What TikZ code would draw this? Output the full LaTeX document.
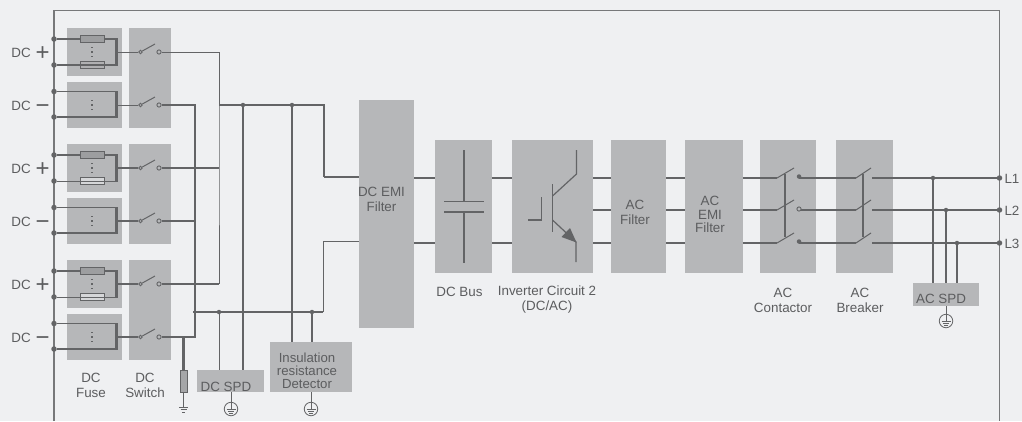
\documentclass[tikz,border=0pt]{standalone}
\usepackage{fontspec}
\setmainfont{Liberation Sans}
\usetikzlibrary{arrows.meta}
\definecolor{bgc}{HTML}{EFF0F2}
\definecolor{boxc}{HTML}{B6B7B9}
\definecolor{wirec}{HTML}{636466}
\definecolor{framec}{HTML}{77787A}
\definecolor{txtc}{HTML}{5C5D5F}
\tikzset{
  x=1pt,y=-1pt,
  blk/.style={fill=boxc,draw=none,inner sep=0pt,outer sep=0pt},
  lbl/.style={text=txtc,inner sep=0pt,outer sep=0pt,align=center,font=\fontsize{13.4}{15}\selectfont},
  wthin/.style={draw=wirec,line width=1pt},
  wmid/.style={draw=wirec,line width=1.4pt},
  wthick/.style={draw=wirec,line width=2.2pt},
  dotn/.style={circle,fill=wirec,draw=none,minimum size=5.5pt,inner sep=0pt},
  term/.style={circle,draw=wirec,fill=boxc,line width=.9pt,minimum size=4.2pt,inner sep=0pt},
  fusebox/.style={draw=wirec,line width=.8pt,fill=#1,minimum width=24pt,minimum height=6.5pt,inner sep=0pt},
  earthn/.style={circle,draw=wirec,line width=.8pt,fill=none,minimum size=13.5pt,inner sep=0pt},
}
\newcommand{\earthsym}[1]{%
  \draw[wthin] ([xshift=-4.5pt]#1.center) -- ([xshift=4.5pt]#1.center);
  \draw[wthin,line width=.8pt] ([xshift=-3.2pt,yshift=-2.4pt]#1.center) -- ([xshift=3.2pt,yshift=-2.4pt]#1.center);
  \draw[wthin,line width=.8pt] ([xshift=-1.6pt,yshift=-4.6pt]#1.center) -- ([xshift=1.6pt,yshift=-4.6pt]#1.center);
}
\begin{document}
\begin{tikzpicture}
\useasboundingbox (0,0) rectangle (1022,421);
\fill[bgc] (0,0) rectangle (1022,421);
% frame
\draw[draw=framec,line width=1.2pt] (54,421) -- (54,10.5) -- (999.5,10.5) -- (999.5,421);

% input groups
\foreach \o/\wA/\wB/\wC/\wD/\wE/\wF/\ca in {
  0/wthick/wthick/wthin/wthick/wthin/wthin/B0B0B2,
  116/wthick/wthin/wthin/wthick/wthick/wthick/D6D7D9,
  232/wthick/wthin/wthin/wmid/wthick/wthick/D6D7D9}{
  \definecolor{fc}{HTML}{\ca}
  \node[blk,minimum width=55.5pt,minimum height=48pt] (fa\o) at (94.7,52+\o) {};
  \node[blk,minimum width=55.5pt,minimum height=46.5pt] (fb\o) at (94.7,105+\o) {};
  \node[blk,minimum width=42pt,minimum height=100pt] (sw\o) at (150,78+\o) {};
  \coordinate (ja\o) at (116.5,39+\o);
  \coordinate (jb\o) at (116.5,65+\o);
  \coordinate (jm\o) at (116.5,52+\o);
  \coordinate (jc\o) at (116.5,91.5+\o);
  \coordinate (jd\o) at (116.5,117+\o);
  \coordinate (jn\o) at (116.5,105+\o);
  \node[dotn] (da\o) at (54,39+\o) {};
  \node[dotn] (db\o) at (54,65+\o) {};
  \node[dotn] (dc\o) at (54,91.5+\o) {};
  \node[dotn] (dd\o) at (54,117+\o) {};
  % switch terminals
  \node[term,minimum size=3.6pt] (ta\o) at (140.5,52+\o) {};
  \node[term] (tb\o) at (159,52+\o) {};
  \node[term,minimum size=3.6pt] (tc\o) at (140.5,105+\o) {};
  \node[term] (td\o) at (159,105+\o) {};
  \coordinate (ba\o) at (155,44+\o);
  \coordinate (bc\o) at (155,97+\o);
  % wires
  \draw[\wA] (da\o) -- (ja\o);
  \draw[\wB] (db\o) -- (jb\o);
  \draw[wthick] ([yshift=1pt]ja\o) -- ([yshift=-1pt]jb\o);
  \draw[\wE] (jm\o) -- (ta\o);
  \draw[\wC] (dc\o) -- (jc\o);
  \draw[\wD] (dd\o) -- (jd\o);
  \draw[wthick] ([yshift=.5pt]jc\o) -- ([yshift=-1pt]jd\o);
  \draw[\wF] (jn\o) -- (tc\o);
  \draw[wthin] (ta\o) -- (ba\o);
  \draw[wthin] (tc\o) -- (bc\o);
  % fuses
  \node[fusebox=boxc!70!wirec] (fu\o) at (92.5,39+\o) {};
  \node[fusebox=fc] (fl\o) at (92.5,65+\o) {};
  \draw[\wB] (fl\o.west) -- (fl\o.east);
  % dotted marks
  \foreach \q in {47.5,52,56.5}{\fill[wirec] (90.8,\q+\o-.9) rectangle (93,\q+\o+.9);}
  \foreach \q in {100.5,105,109.5}{\fill[wirec] (90.8,\q+\o-.9) rectangle (93,\q+\o+.9);}
}

% terminal labels
\foreach \n/\yy/\s in {p1/57/+,m1/110/−,p2/173/+,m2/226/−,p3/289/+,m3/342/−}{
  \node[lbl,anchor=base west] (\n) at (11.5,\yy) {DC};
  \node[lbl,anchor=base west,font=\fontsize{24}{24}\selectfont] (\n s) at (35.5,\yy+3) {\s};
}

% DC buses
\coordinate (r1) at (219,52);  \coordinate (r2) at (219,105); \coordinate (r3) at (219,168); \coordinate (r4) at (219,284);
\coordinate (n1) at (195,105); \coordinate (n2) at (195,221); \coordinate (n3) at (195,337); \coordinate (n4) at (195,312);
\draw[wthin] (tb0) -- (r1) -- (r2);
\draw[wthin] (r2) -- (r3) -- (r4);
\draw[wthick] (tb116) -- (r3);
\draw[wthick] (tb232) -- (r4);
\draw[wthick] (td0) -- (n1) -- (n3) -- (td232);
\draw[wthick] (td116) -- (n2);

% blocks
\node[blk,minimum width=55pt,minimum height=228pt] (emi) at (386.5,214) {};
\node[blk,minimum width=57pt,minimum height=133pt] (bus) at (463.5,206.5) {};
\node[blk,minimum width=81pt,minimum height=133pt] (inv) at (552.5,206.5) {};
\node[blk,minimum width=55.5pt,minimum height=133pt] (acf) at (638.5,206.5) {};
\node[blk,minimum width=57.5pt,minimum height=133pt] (ace) at (714,206.5) {};
\node[blk,minimum width=56pt,minimum height=133pt] (con) at (788,206.5) {};
\node[blk,minimum width=57pt,minimum height=133pt] (brk) at (864.5,206.5) {};
\node[blk,minimum width=67pt,minimum height=22pt] (dspd) at (230.5,381) {};
\node[blk,minimum width=82pt,minimum height=50pt] (ins) at (311,367) {};
\node[blk,minimum width=66pt,minimum height=23pt] (aspd) at (946,294.5) {};

% main DC wiring
\node[dotn,minimum size=4.5pt] (j243) at (243,105) {};
\node[dotn,minimum size=4.5pt] (j292) at (292,105) {};
\node[dotn,minimum size=4.5pt] (j219) at (219,312) {};
\node[dotn,minimum size=4.5pt] (j312) at (312,312) {};
\coordinate (c1) at (324,105); \coordinate (c2) at (324,177); \coordinate (c3) at (359,177);
\coordinate (c4) at (323,312); \coordinate (c5) at (323,241); \coordinate (c6) at (359,241);
\coordinate (c0) at (193,312);
\coordinate (sp) at (219,370); \coordinate (sq) at (243,370); \coordinate (ia) at (292,342); \coordinate (ib) at (312,342);
\draw[wthick] (r2) -- (c1) -- (c2);
\draw[wthin,line width=1.4pt] (c2) -- (c3);
\draw[wthick] (c0) -- (c4);
\draw[wthin] (c4) -- (c5) -- (c6);
\draw[wthick] (j243) -- (sq);
\draw[wthick] (j292) -- (ia);
\draw[wthin] (j219) -- (sp);
\draw[wthick] (j312) -- (ib);

% string grounding
\coordinate (gt) at (183.5,337);
\node[draw=wirec,line width=.8pt,fill=boxc!80!wirec,minimum width=7pt,minimum height=22pt,inner sep=0pt] (gf) at (183.5,381) {};
\coordinate (gb) at (183.5,407);
\draw[wthick] (gt) -- (gf.north);
\draw[wthin] (gf.south) -- (gb);
\draw[wthin,line width=.9pt] ([xshift=-4.5pt]gb) -- ([xshift=4.5pt]gb);
\draw[wthin,line width=.8pt] ([xshift=-3pt,yshift=-2.5pt]gb) -- ([xshift=3pt,yshift=-2.5pt]gb);
\draw[wthin,line width=.8pt] ([xshift=-1.5pt,yshift=-5pt]gb) -- ([xshift=1.5pt,yshift=-5pt]gb);

% earth symbols
\node[earthn] (e1) at (231,409) {};
\node[earthn] (e2) at (311,409) {};
\node[earthn] (e3) at (946,321) {};
\foreach \e in {e1,e2,e3}{\earthsym{\e}}
\draw[wthin,line width=.8pt] (231,392) -- (e1.center);
\draw[wthin,line width=.8pt] (311,392) -- (e2.center);
\draw[wthin,line width=.8pt] (946,306) -- (e3.center);

% DC link segments
\draw[wthin,line width=1.1pt] (emi.east |- 0,178) -- (bus.west |- 0,178);
\draw[wthick] (emi.east |- 0,243) -- (bus.west |- 0,243);
\draw[wthin,line width=1.1pt] (bus.east |- 0,178) -- (inv.west |- 0,178);
\draw[wthick] (bus.east |- 0,243) -- (inv.west |- 0,243);
\foreach \a/\b in {inv/acf,acf/ace,ace/con}{
  \draw[wthin,line width=1.1pt] (\a.east |- 0,178) -- (\b.west |- 0,178);
  \draw[wthin,line width=1.1pt] (\a.east |- 0,210) -- (\b.west |- 0,210);
  \draw[wthick] (\a.east |- 0,243) -- (\b.west |- 0,243);
}

% capacitor
\draw[wmid] (464,150) -- (464,201);
\draw[wthin] (444,201) -- (484,201);
\draw[wthick] (444,212) -- (484,212);
\draw[wmid] (464,212) -- (464,263);

% transistor
\draw[wthick,line width=1.6pt] (552.5,184) -- (552.5,232);
\draw[wthin,line width=1.2pt] (552.5,196) -- (576.5,174) -- (576.5,150);
\draw[wthin,line width=1.2pt] (552.5,220) -- (576,242) -- (576,262);
\fill[wirec] (576.5,242.5) -- (561.5,237) -- (570,228) -- cycle;
\draw[wthin,line width=1.2pt] (528,220) -- (541.5,220) -- (541.5,197);

% AC side
\foreach \y/\w/\wb in {178/1.1pt/2.2pt,210/1.1pt/1.1pt,243/2.2pt/2.2pt}{
  \draw[wthin,line width=\w] (con.west |- 0,\y) -- (777,\y);
  \draw[wthin] (777,\y) -- (794,\y-10);
  \draw[wthin,line width=\wb] (799,\y) -- (856,\y);
  \draw[wthin] (856,\y) -- (871,\y-10);
  \draw[wthin,line width=\wb] (872,\y) -- (999.5,\y);
}
\foreach \y in {178,243}{\node[dotn,minimum size=4.5pt] at (799,\y-1.5) {};}
\node[term] at (799,209) {};
\draw[wmid] (785,174) -- (785,237);
\draw[wmid,line width=1.1pt] (863,174) -- (863,237);
\node[dotn] (l1d) at (999.5,178) {};
\node[dotn] (l2d) at (999.5,210) {};
\node[dotn] (l3d) at (999.5,243) {};
\node[dotn,minimum size=4.5pt] (a1) at (933,178) {};
\node[dotn,minimum size=4.5pt] (a2) at (946,210) {};
\node[dotn,minimum size=4.5pt] (a3) at (957,243) {};
\draw[wthick,line width=1.7pt] (a1) -- (933,283);
\draw[wthick,line width=1.7pt] (a2) -- (946,283);
\draw[wthick,line width=1.7pt] (a3) -- (957,283);
\node[lbl,anchor=base west] (l1) at (1004.5,183) {L1};
\node[lbl,anchor=base west] (l2) at (1004.5,215) {L2};
\node[lbl,anchor=base west] (l3) at (1004.5,248) {L3};

% labels
\node[lbl] (t1) at (91,385.5) {DC\\Fuse};
\node[lbl] (t2) at (145,385.5) {DC\\Switch};
\node[lbl] (t3) at (226,387) {DC SPD};
\node[lbl,font=\fontsize{13.2}{13}\selectfont] (t4) at (307,371) {Insulation\\resistance\\Detector};
\node[lbl] (t5) at (381.5,199) {DC EMI\\Filter};
\node[lbl] (t6) at (459.5,292) {DC Bus};
\node[lbl] (t7) at (547,300) {Inverter Circuit 2\\(DC/AC)};
\node[lbl] (t8) at (635,212.5) {AC\\Filter};
\node[lbl,font=\fontsize{13.4}{13.5}\selectfont] (t9) at (710,214.5) {AC\\EMI\\Filter};
\node[lbl] (t10) at (783,300) {AC\\Contactor};
\node[lbl] (t11) at (860,300) {AC\\Breaker};
\node[lbl] (t12) at (941,299) {AC SPD};
\end{tikzpicture}
\end{document}
